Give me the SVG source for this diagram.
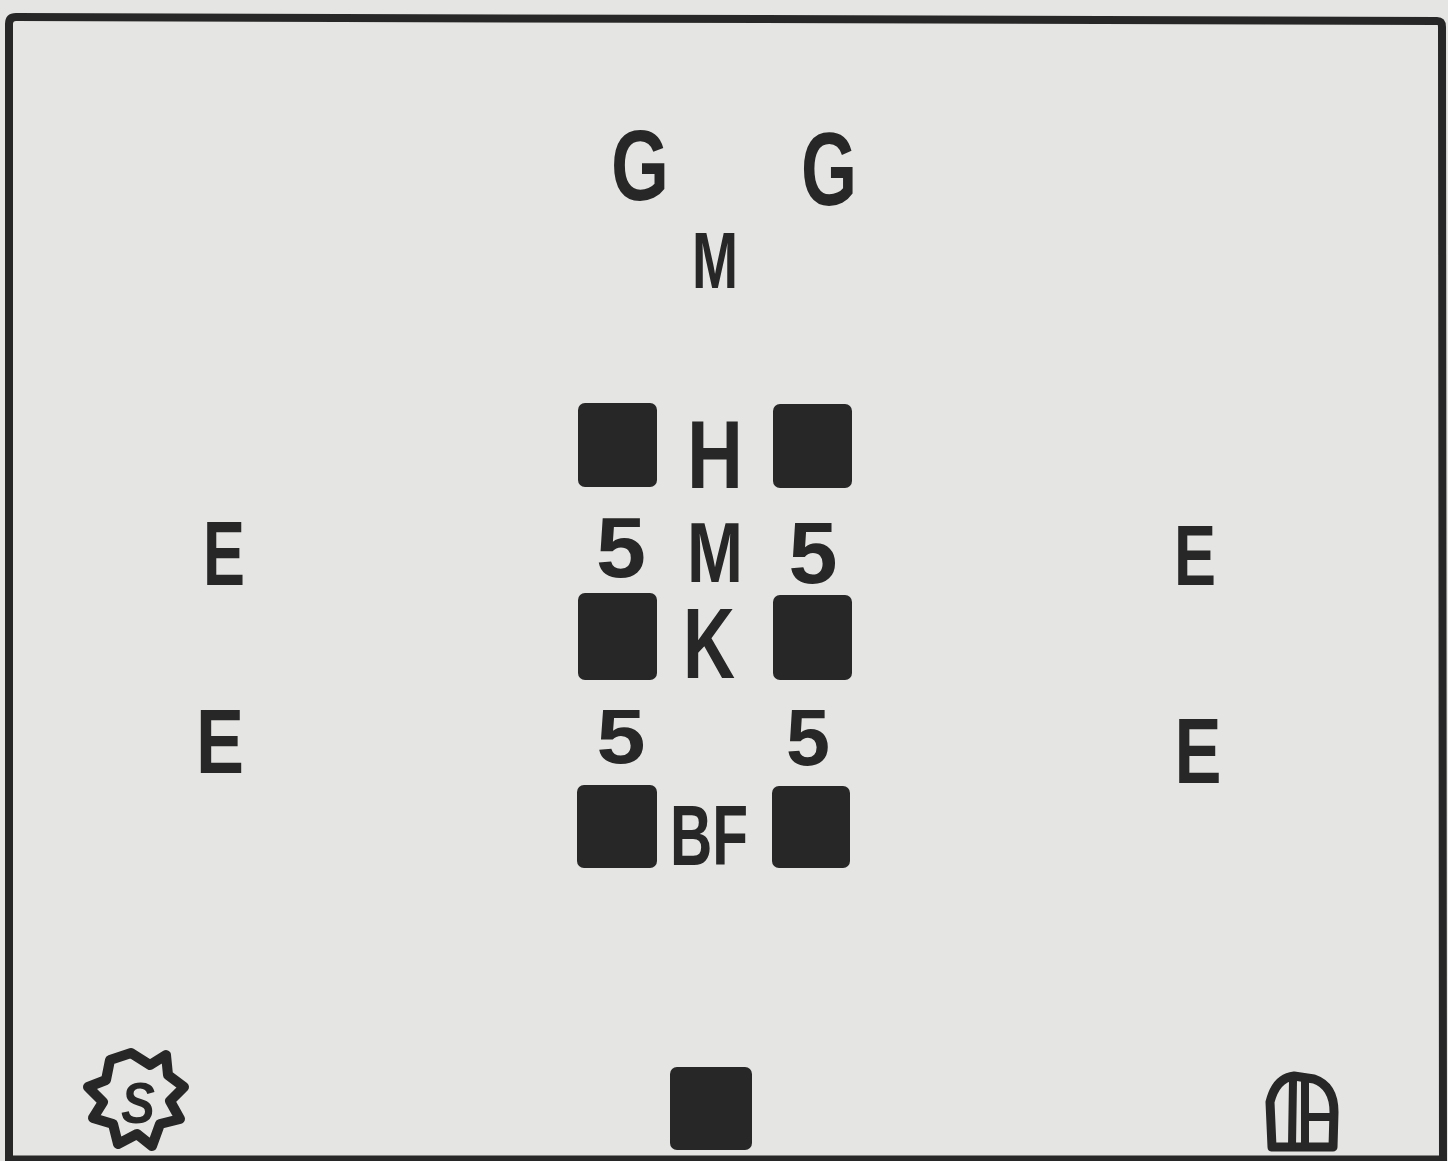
<svg xmlns="http://www.w3.org/2000/svg" width="1448" height="1161" viewBox="0 0 1448 1161">
<style>
.ink{fill:#272727}
.t{font-family:"Liberation Sans","DejaVu Sans",sans-serif;font-weight:bold;fill:#272727;text-anchor:middle}
.ln{fill:none;stroke:#272727;stroke-linejoin:round;stroke-linecap:round}
</style>
<rect width="1448" height="1161" fill="#e5e5e3"/>
<path class="ln" stroke-width="8" d="M9 1165 L9 24 Q9 17 16 17 L1437 21 Q1442 21 1442 27 L1443 1165"/>
<line class="ln" stroke-width="7" x1="9" y1="1159" x2="1443" y2="1159"/>
<g id="labels-top">
<text class="t" x="640" y="200" font-size="100" textLength="58" lengthAdjust="spacingAndGlyphs">G</text>
<text class="t" x="829" y="205" font-size="104" textLength="56" lengthAdjust="spacingAndGlyphs">G</text>
<text class="t" x="715" y="288" font-size="80" textLength="46" lengthAdjust="spacingAndGlyphs">M</text>
</g>
<g id="blocks">
<rect class="ink" x="578" y="403" width="79" height="84" rx="7"/>
<rect class="ink" x="773" y="404" width="79" height="84" rx="7"/>
<rect class="ink" x="578" y="593" width="79" height="87" rx="7"/>
<rect class="ink" x="773" y="595" width="79" height="85" rx="7"/>
<rect class="ink" x="577" y="785" width="80" height="83" rx="7"/>
<rect class="ink" x="772" y="786" width="78" height="82" rx="7"/>
<rect class="ink" x="670" y="1067" width="82" height="83" rx="7"/>
</g>
<g id="labels-center">
<text class="t" x="715" y="488" font-size="97" textLength="56" lengthAdjust="spacingAndGlyphs">H</text>
<text class="t" x="621" y="577" font-size="86" textLength="50" lengthAdjust="spacingAndGlyphs">5</text>
<text class="t" x="715" y="582" font-size="86" textLength="56" lengthAdjust="spacingAndGlyphs">M</text>
<text class="t" x="813" y="583" font-size="88" textLength="49" lengthAdjust="spacingAndGlyphs">5</text>
<text class="t" x="709" y="678" font-size="101" textLength="52" lengthAdjust="spacingAndGlyphs">K</text>
<text class="t" x="621" y="763" font-size="77" textLength="49" lengthAdjust="spacingAndGlyphs">5</text>
<text class="t" x="808" y="765" font-size="80" textLength="44" lengthAdjust="spacingAndGlyphs">5</text>
<text class="t" x="709" y="865" font-size="86" textLength="78" lengthAdjust="spacingAndGlyphs">BF</text>
</g>
<g id="labels-sides">
<text class="t" x="224" y="585" font-size="90" textLength="42" lengthAdjust="spacingAndGlyphs">E</text>
<text class="t" x="220" y="773" font-size="90" textLength="48" lengthAdjust="spacingAndGlyphs">E</text>
<text class="t" x="1195" y="585" font-size="86" textLength="42" lengthAdjust="spacingAndGlyphs">E</text>
<text class="t" x="1198" y="783" font-size="92" textLength="47" lengthAdjust="spacingAndGlyphs">E</text>
</g>
<g id="sun-symbol">
<polygon class="ln" stroke-width="10" points="131,1053 150,1065 166,1055 168,1075 184,1087 170,1101 180,1119 160,1124 152,1146 137,1134 118,1144 113,1124 93,1118 103,1102 88,1087 106,1080 110,1060"/>
<text class="t" x="138" y="1123" font-size="58" font-style="italic" textLength="34" lengthAdjust="spacingAndGlyphs">S</text>
</g>
<g id="corner-symbol">
<path class="ln" stroke-width="9" d="M1272 1147 L1270 1102 Q1276 1078 1294 1076 L1314 1079 Q1334 1086 1334 1112 L1333 1147 Z"/>
<line class="ln" stroke-width="8" x1="1293" y1="1080" x2="1292" y2="1146"/>
<line class="ln" stroke-width="8" x1="1305" y1="1080" x2="1305" y2="1146"/>
<line class="ln" stroke-width="8" x1="1305" y1="1117" x2="1331" y2="1117"/>
</g>
</svg>
